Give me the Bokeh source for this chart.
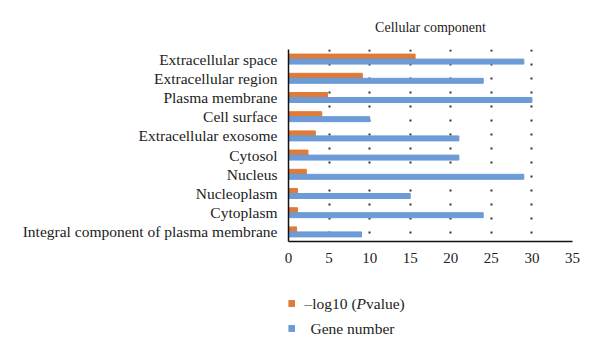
from bokeh.plotting import figure
from bokeh.models import FactorRange, Range1d
from bokeh.transform import dodge
from bokeh.layouts import column
from bokeh.core.properties import value
from bokeh.embed import file_html
from bokeh.resources import INLINE

categories = ["Extracellular space", "Extracellular region", "Plasma membrane",
              "Cell surface", "Extracellular exosome", "Cytosol", "Nucleus",
              "Nucleoplasm", "Cytoplasm", "Integral component of plasma membrane"]
neg_log_p = [15.6, 9.1, 4.8, 4.1, 3.3, 2.4, 2.2, 1.1, 1.1, 1.0]
gene_number = [29, 24, 30, 10, 21, 21, 29, 15, 24, 9]
x_ticks = [0, 5, 10, 15, 20, 25, 30, 35]
title_text = "Cellular component"

ORANGE = "#DE7B38"
BLUE = "#6C9BD6"
FONT = "Liberation Serif"

src = dict(cat=categories, p=neg_log_p, g=gene_number)


def panel(height):
    f = figure(width=600, height=height, output_backend="svg", toolbar_location=None,
               x_range=Range1d(288, 572), y_range=Range1d(height, 0),
               min_border=0, min_border_left=288, min_border_right=28,
               min_border_top=0, min_border_bottom=0)
    f.axis.visible = False
    f.grid.visible = False
    f.outline_line_color = None
    return f


# title panel (frame aligns with the chart frame: x from 288 to 572 px)
tp = panel(49)
tp.text(x=[430], y=[27], text=[title_text], text_font=value(FONT),
        text_font_size="14px", text_align="center", text_baseline="middle",
        text_color="#222")

p = figure(width=600, height=231, output_backend="svg", toolbar_location=None,
           y_range=FactorRange(factors=categories[::-1], range_padding=0),
           x_range=Range1d(0, 35),
           min_border_left=288, min_border_right=28, min_border_top=0,
           min_border_bottom=39)
p.outline_line_color = None
p.hbar(y=dodge("cat", 0.13, range=p.y_range), right="p", left=0, height=0.26,
       color=ORANGE, source=src)
p.hbar(y=dodge("cat", -0.13, range=p.y_range), right="g", left=0, height=0.26,
       color=BLUE, source=src)

p.xaxis.ticker = x_ticks
for ax in (p.xaxis[0], p.yaxis[0]):
    ax.axis_line_color = "#111"
    ax.axis_line_width = 1.5
    ax.major_tick_line_color = None
    ax.minor_tick_line_color = None
    ax.major_label_text_font = FONT
    ax.major_label_text_color = "#222"
p.yaxis.major_label_text_font_size = "15.5px"
p.xaxis.major_label_text_font_size = "15px"
p.yaxis.major_label_standoff = 5
p.xaxis.major_label_standoff = 5

p.ygrid.grid_line_color = None
p.xgrid.grid_line_color = "#333"
p.xgrid.grid_line_width = 2
p.xgrid.grid_line_dash = "2 12"
p.xgrid.grid_line_dash_offset = 6

# legend panel
lg = panel(74)
lg.scatter(x=[291, 291], y=[23, 48], marker="square", size=6,
           color=[ORANGE, BLUE])
lg.text(x=[304], y=[23], text=["–log10 ("], text_font=value(FONT),
        text_font_size="15.5px", text_baseline="middle", text_color="#222")
lg.text(x=[356], y=[23], text=["P"], text_font=value(FONT),
        text_font_style="italic", text_font_size="15.5px",
        text_baseline="middle", text_color="#222")
lg.text(x=[365.5], y=[23], text=["value)"], text_font=value(FONT),
        text_font_size="15.5px", text_baseline="middle", text_color="#222")
lg.text(x=[310], y=[48], text=["Gene number"], text_font=value(FONT),
        text_font_size="15.5px", text_baseline="middle", text_color="#222")

layout = column(tp, p, lg, spacing=0)
open("out.html", "w").write(file_html(layout, INLINE))
